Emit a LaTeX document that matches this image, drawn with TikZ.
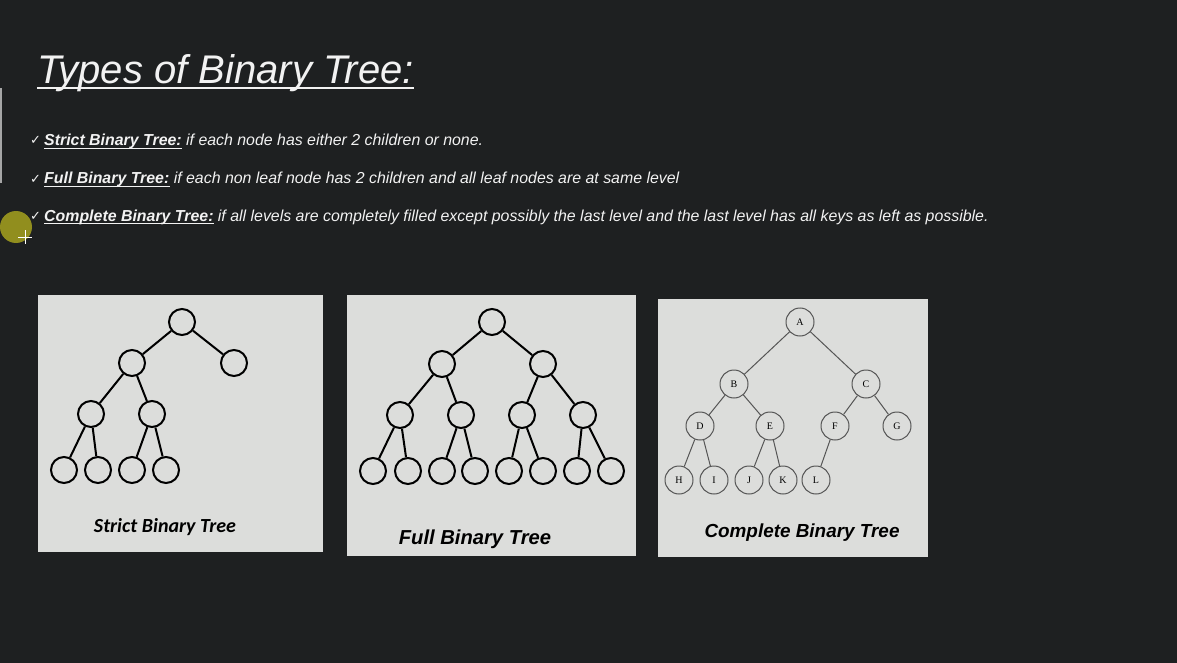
\documentclass[tikz,border=0pt]{standalone}
\usepackage{fontspec}
\setmainfont{Liberation Sans}
\newfontfamily\checkfont{DejaVu Sans}
\newfontfamily\calfont{Carlito}
\newfontfamily\letterfont{Liberation Serif}
\definecolor{slidebg}{HTML}{1E2021}
\definecolor{slidetext}{HTML}{F2F2F2}
\definecolor{panel}{HTML}{DCDDDB}
\definecolor{cursorcol}{HTML}{9E9A1E}
\definecolor{thinedge}{HTML}{555555}
\begin{document}
\begin{tikzpicture}[x=1pt,y=-1pt,
  txt/.style={inner sep=0pt, text=slidetext, font=\fontsize{15.9}{17}\selectfont\itshape},
  lbl/.style={txt, font=\fontsize{15.9}{17}\selectfont\bfseries\itshape},
  tick/.style={inner sep=0pt, text=slidetext, font=\checkfont\fontsize{13}{14}\selectfont},
  ulbar/.style={draw=slidetext, line width=1.2pt},
  panelbox/.style={fill=panel, draw=none},
  tnode/.style={circle, draw=black, line width=2pt, minimum size=26pt, inner sep=0pt},
  tedge/.style={draw=black, line width=2pt},
  cnode/.style={circle, draw=thinedge, line width=1pt, fill=panel, minimum size=28pt, inner sep=0pt,
    font=\letterfont\fontsize{10}{10}\selectfont},
  cedge/.style={draw=thinedge, line width=1pt},
  caption/.style={inner sep=0pt, text=black}
]
\useasboundingbox[fill=slidebg] (0,0) rectangle (1177,663);

% side marker
\fill[gray!70] (0,88) rectangle (2,183);

% title
\node[anchor=base west, inner sep=0pt, text=slidetext,
  font=\fontsize{40}{44}\selectfont\itshape] (title) at (37,84) {Types of Binary Tree:};
\draw[ulbar, line width=1.8pt] ([yshift=-4pt]title.base west) -- ([yshift=-4pt]title.base east);

% definitions
\node[tick, anchor=base west] (t1) at (30,145) {✓};
\node[lbl, anchor=base west] (l1) at (44,146) {Strict Binary Tree:};
\node[txt, anchor=base west] (d1) at ([xshift=4pt]l1.base east) {if each node has either 2 children or none.};
\draw[ulbar] ([yshift=-2.5pt]l1.base west) -- ([yshift=-2.5pt]l1.base east);

\node[tick, anchor=base west] (t2) at (30,183) {✓};
\node[lbl, anchor=base west] (l2) at (44,184) {Full Binary Tree:};
\node[txt, anchor=base west] (d2) at ([xshift=4pt]l2.base east) {if each non leaf node has 2 children and all leaf nodes are at same level};
\draw[ulbar] ([yshift=-2.5pt]l2.base west) -- ([yshift=-2.5pt]l2.base east);

\node[tick, anchor=base west] (t3) at (30,220) {✓};
\node[lbl, anchor=base west] (l3) at (44,221) {Complete Binary Tree:};
\node[txt, anchor=base west] (d3) at ([xshift=4pt]l3.base east) {if all levels are completely filled except possibly the last level and the last level has all keys as left as possible.};
\draw[ulbar] ([yshift=-2.5pt]l3.base west) -- ([yshift=-2.5pt]l3.base east);

% pointer highlight
\fill[cursorcol, opacity=0.9] (16,227) circle (16);
\draw[white, line width=0.8pt] (18,237) -- (32,237) (25,230) -- (25,244);

% panels
\fill[panelbox] (38,295) rectangle (323,552);
\fill[panelbox] (347,295) rectangle (636,556);
\fill[panelbox] (658,299) rectangle (928,557);

% strict binary tree
\node[tnode] (s1) at (182,322) {};
\node[tnode] (s2) at (132,363) {};
\node[tnode] (s3) at (234,363) {};
\node[tnode] (s4) at (91,414) {};
\node[tnode] (s5) at (152,414) {};
\node[tnode] (s8) at (64,470) {};
\node[tnode] (s9) at (98,470) {};
\node[tnode] (s10) at (132,470) {};
\node[tnode] (s11) at (166,470) {};
\draw[tedge] (s1) -- (s2) (s1) -- (s3) (s2) -- (s4) (s2) -- (s5)
  (s4) -- (s8) (s4) -- (s9) (s5) -- (s10) (s5) -- (s11);
\node[caption, font=\calfont\fontsize{20}{22}\selectfont\bfseries\itshape] (cap1) at (165,527) {Strict Binary Tree};

% full binary tree
\node[tnode] (f1) at (492,322) {};
\node[tnode] (f2) at (442,364) {};
\node[tnode] (f3) at (543,364) {};
\node[tnode] (f4) at (400,415) {};
\node[tnode] (f5) at (461,415) {};
\node[tnode] (f6) at (522,415) {};
\node[tnode] (f7) at (583,415) {};
\node[tnode] (f8) at (373,471) {};
\node[tnode] (f9) at (408,471) {};
\node[tnode] (f10) at (442,471) {};
\node[tnode] (f11) at (475,471) {};
\node[tnode] (f12) at (509,471) {};
\node[tnode] (f13) at (543,471) {};
\node[tnode] (f14) at (577,471) {};
\node[tnode] (f15) at (611,471) {};
\draw[tedge] (f1) -- (f2) (f1) -- (f3) (f2) -- (f4) (f2) -- (f5) (f3) -- (f6) (f3) -- (f7)
  (f4) -- (f8) (f4) -- (f9) (f5) -- (f10) (f5) -- (f11)
  (f6) -- (f12) (f6) -- (f13) (f7) -- (f14) (f7) -- (f15);
\node[caption, font=\fontsize{20.2}{22}\selectfont\bfseries\itshape] (cap2) at (475,539) {Full Binary Tree};

% complete binary tree
\node[cnode] (A) at (800,322) {A};
\node[cnode] (B) at (734,384) {B};
\node[cnode] (C) at (866,384) {C};
\node[cnode] (D) at (700,426) {D};
\node[cnode] (E) at (770,426) {E};
\node[cnode] (F) at (835,426) {F};
\node[cnode] (G) at (897,426) {G};
\node[cnode] (H) at (679,480) {H};
\node[cnode] (I) at (714,480) {I};
\node[cnode] (J) at (749,480) {J};
\node[cnode] (K) at (783,480) {K};
\node[cnode] (L) at (816,480) {L};
\draw[cedge] (A) -- (B) (A) -- (C) (B) -- (D) (B) -- (E) (C) -- (F) (C) -- (G)
  (D) -- (H) (D) -- (I) (E) -- (J) (E) -- (K) (F) -- (L);
\node[caption, font=\fontsize{18.9}{21}\selectfont\bfseries\itshape] (cap3) at (802,533) {Complete Binary Tree};
\end{tikzpicture}
\end{document}
